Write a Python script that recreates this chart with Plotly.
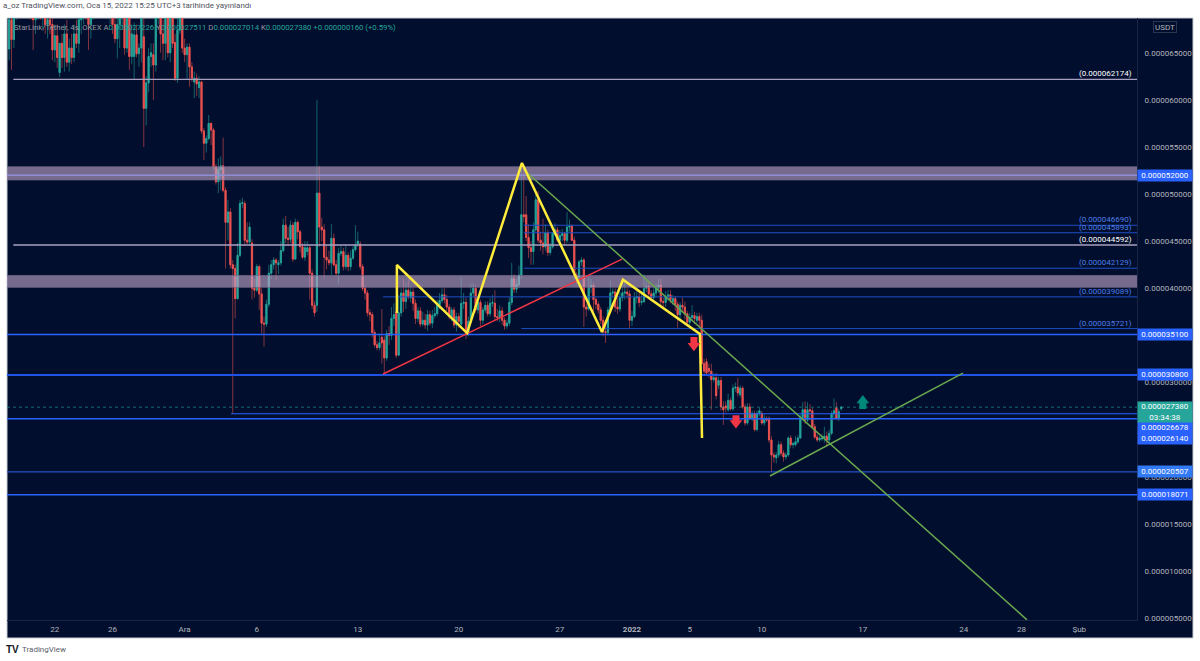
import numpy as np
import pandas as pd
import plotly.graph_objects as go

# 4h candles, prices in millionths of USDT
opens = [
    65.4,68.5,66.4,69.0,70.5,71.5,72.0,70.5,71.0,70.0,
    69.5,68.5,69.5,70,69,69.5,68,68.5,68,65.3,
    66.8,62.9,66,64.5,67,64,65.5,64.5,67,66,
    68.5,69.5,70,69,68,70,71,72,70.8,71.5,
    70.5,71.2,70,70.5,68,66.5,68,69.5,71,65.5,
    69,64.6,64.6,66.9,64.9,65.5,66.7,59.1,61.8,64.6,
    64.8,63.7,69,70,67,66,69,65,69,66.1,
    62.3,67.4,70,65.5,64.8,65.6,63.5,61.9,62.3,61.3,
    61.9,56.7,55.4,55.9,57.5,56.8,52.9,51.3,52.6,53,
    50.4,47,48.1,42.5,42.1,38.9,43.5,49,49,45.1,
    44.9,44.8,40,39.8,42.3,39.4,36.3,36.2,38.3,41.6,
    42.5,43,42.5,42.7,44,46.7,45.3,45.2,46.7,43.1,
    47,46,44.4,43.3,43.9,44.3,41.6,38.2,38.2,50.1,
    46.5,46.2,43.3,43,42.7,45.3,42.5,41.6,43.7,43.9,
    42.3,43.5,42.3,43.2,44.1,44.7,44.7,42.3,40,39.5,
    37.4,37.2,35.3,34,33.7,34.8,34.5,32.6,35.2,35,
    36.8,37.5,32.9,37.4,39.5,38.6,39.8,39,39.6,38.4,
    36.8,37.6,36.2,36.6,36.1,37.2,36.3,37.1,37.3,38.2,
    38.7,39.3,38.8,38,37,37.7,36.1,37,36.2,38.4,
    38.5,35.2,36.5,39.5,40,37.7,38.5,36.6,37.7,38.2,
    37.3,38.4,38.4,37,36.9,37.6,36.6,36,36.3,38.5,
    41,39.9,40.4,41.4,47.8,47.8,45.4,44.3,43.9,46.2,
    49.4,45.1,44.8,44.4,45.9,43.8,44.4,45.9,46.2,45.1,
    45.6,45.8,45.1,46.5,46.6,45.1,41.4,41.2,42.8,43,
    38,37.8,40.1,40.3,38.8,38.3,37.7,36.6,35.4,35.3,
    37.7,39.5,39.6,38,37.8,39,39.5,39.6,39.4,36.6,
    37,39,39.1,38.5,38.6,40,40.2,39.4,39,39.5,
    40,40.3,38.6,38.5,39.1,39.3,38.6,38.9,38.3,37.2,
    38.2,38,37.3,36.4,36.9,37.1,36.6,37,36.6,32,
    32.2,31.5,31.2,30.3,30.5,29.7,30.2,27.4,27.5,27.1,
    28.1,27.2,29.4,29.5,28.7,29.4,27.4,25.7,27.4,26.2,
    26.7,25,26.7,26.7,25.7,26.2,26.2,23.9,22.3,22,
    22.3,23.4,22.5,22.1,22.3,24.1,23.4,23.4,23.7,24.1,
    26.3,27.1,26,27.1,27,25.3,24.2,23.9,24,24.1,
    24.3,23.9,24.6,26.7,27.3,26.2,27.226,
]
highs = [
    70,70,71,72,73,74,73.5,72,72,71,
    71,70,71,71.5,70.5,70.5,69.5,70,69,68,
    68,66,67,68,68.5,66.5,67,68,68.5,69,
    70,71,71,70.5,71,72,73,73,72,73,
    72,72.5,71.5,72,70,69,70,72,72,70,
    70.5,68,68.2,68,66,70,70,62.5,65.5,66,
    66,71,71.5,71,68.5,70,70,71,70,67,
    69,71,71,66.5,66,66,64,63,62.8,62.5,
    62,57,56.2,58.4,57.6,57,53.2,53.8,54,56,
    50.7,49.4,48.5,43,42.5,44.8,49.4,49.6,49.3,47,
    47,45.2,41,42.6,42.5,40,37,38.8,42.5,43,
    43.3,43.2,43,45,47.4,47.7,46.5,47.2,47,47.4,
    47.2,46.2,44.8,45,45,44.6,42,38.6,60,53,
    47.5,46.8,44.5,44,46.8,45.8,43,44.3,44.5,44.3,
    44.6,43.8,44,44.5,46.7,46,45,42.6,40.3,39.8,
    37.8,37.5,35.6,34.4,35.2,37.8,34.9,35.6,36,38,
    38.4,38,39.3,40,41,40.6,41,40.2,40,38.8,
    38,38,37.5,37.3,37.7,37.6,37.7,38,38.8,39.5,
    40,40,39.3,38.3,38,38,37.4,37.4,41.2,39.5,
    39,37,40.5,40.5,40.3,39.2,38.8,38,38.6,38.6,
    39,39.3,39.8,37.8,38.2,38,36.9,36.7,39,42.7,
    41.5,41,42.4,52.8,53.2,49.8,46.8,45,47,50.2,
    50.3,46,47.4,46.8,46.2,44.8,46,46.9,46.5,46.2,
    46.3,46,48.1,47.3,46.8,45.5,41.7,43,43.3,43.2,
    38.4,41.2,41,40.6,39.1,38.6,38,37,36,38,
    40.8,40,40,39,39.6,40.2,40.6,40,39.8,37.6,
    39.6,40,39.8,39.4,41.5,40.9,40.7,39.8,40,40.5,
    41,41,39,39.7,39.8,39.8,39.3,39.2,38.6,38.5,
    39,38.6,37.6,37.4,38.2,37.5,37.4,37.4,37.2,32.5,
    32.6,32,32,31,31,30.6,30.6,28,28,28.8,
    28.4,29.8,30,30.5,29.7,29.6,27.7,27.8,27.8,27,
    27,27,27.3,27,26.6,26.4,26.4,24.3,22.6,22.6,
    23.8,23.7,22.8,22.6,24.3,24.4,23.7,24.3,24.4,26.6,
    27.9,28,27.9,27.7,27.3,25.6,24.5,24.3,24.5,25.3,
    24.8,25,27,28.3,27.9,27.2,27.511,
]
lows = [
    64.2,63.2,65.5,68.5,69.2,70,70,69,69,68.5,
    65.3,67,68.5,68.5,67.5,67,66.5,67,64.2,64,
    63.4,62.4,63.4,63,63.5,63,63.8,64,65.5,65,
    67,68,68.5,65.3,66.5,68.5,69.5,70,69,70,
    69,69.5,68,67,66,64.4,65.5,67.5,64.8,65,
    63.2,63.8,62.1,64.5,63.5,64,55,57.3,60.8,63.5,
    60,63,68,65,64.2,64.2,64.5,64,65.5,62,
    61.8,67,65,64,62.1,61.4,61.9,60.2,60.4,60.2,
    56.4,53.6,54.4,55.7,55.2,52.6,51,50.1,50.4,50.2,
    42.1,45.1,42.1,26.7,36.8,38.8,43.3,48.5,44.5,44.7,
    44.5,38.8,39,39.6,37.7,35.2,33.8,35.9,38,41,
    42,40.9,41.5,42.4,43.8,44.8,44.5,44.8,42.8,43,
    45.2,43.8,43.1,42.9,43.5,38.8,37.8,37,37.5,44.4,
    45,41.1,42,42.4,41.4,42.3,41.3,40.5,43.4,41.9,
    42,41.8,41.9,43,43.9,44.4,42,39.7,38.8,37,
    36.5,34.8,33.7,33.4,33.4,32,30.9,32.3,34,34.5,
    36,32.6,32.8,37,37.5,37.8,38.8,38.5,37.6,36.2,
    36.4,35.9,36,35.7,35.5,36,35.8,36.8,37,37.8,
    38.4,38.4,37.6,36.7,36.5,35.8,35.4,35.8,35.9,37.8,
    34.6,34.9,36.3,39,37.4,37.3,36,36.2,37.4,37,
    37,38,36.6,36.5,36.4,36.1,35.6,35.7,36,38.2,
    39.5,39.5,40,41,47,45,43.2,42.5,42.5,46,
    44.8,44,43.6,44,43.4,43.5,44.2,45.6,44.9,44.6,
    45,44.6,44.8,46,45,41,40.5,40.8,42.4,35.9,
    37,37.6,39.5,37.5,37.8,37.3,36.2,34.9,34.2,35,
    37.4,39,37.5,37.3,37.5,38.6,38.8,38.9,35.7,36,
    36.8,38.4,38,38.2,38.4,39.6,39,38.6,38.6,39,
    39.5,38.2,38,38,38.7,38.4,38.2,37.6,35.8,36.6,
    37.6,36.7,36,36.1,36.6,36.2,36.3,36,31.9,30.8,
    30.8,30.5,27.1,30,28.2,29.3,27,25.5,26.8,26.9,
    27,27,29,28.5,28.4,27.2,25.4,25.5,26,25.9,
    24.8,24.8,26.4,25.5,25.4,25.8,23.6,20.5,21.5,21.4,
    22,22.2,21.6,21.8,22.1,23.1,23,23.2,23.5,24,
    26,25.6,25.8,26,25.1,24,23.7,23.7,23.8,23.6,
    23.3,23.6,24.4,26.2,26,25.9,27.014,
]
closes = [
    68.5,66.4,69,70.5,71.5,72,70.5,71,70,69.5,
    68.5,69.5,70,69,69.5,68,68.5,68,65.3,66.8,
    64.5,66,64.5,67,64,65.5,64.5,67,66,68.5,
    69.5,70,69,68,70,71,72,70.8,71.5,70.5,
    71.2,70,70.5,68,66.5,68,69.5,71,65.5,69,
    64.6,67,66.9,64.9,65.5,69,59.1,61.8,64.6,65,
    63.7,69,70,67,66,69,65,69,66,62.3,
    67.4,70,65.5,64.8,65.6,63.5,62.3,62.3,61.7,61.9,
    56.7,55.4,55.9,57.5,56.8,52.9,51.3,52.6,53,50.4,
    47,48.1,42.5,42.1,38.9,43.5,49,49.1,45.1,44.9,
    46.5,40,39.8,42.3,39.4,36.3,36.2,38.3,41.6,42.5,
    43,42.7,42.7,44,46.7,45.3,45.2,46.7,43.1,47,
    46,44.4,43.3,44.3,44.3,41.6,38.2,37.4,50.1,46.5,
    46.2,43.3,43,42.7,45.3,42.5,41.6,43.7,43.9,42.3,
    43.5,42.3,43.2,44.1,44.6,45,42.3,40,39.5,37.4,
    37.2,35.3,34,33.7,34.2,34.2,32.6,35.2,35,36.8,
    37.2,32.9,37.4,39.5,38.6,39.8,39.1,39.6,38.4,36.8,
    37.6,36.2,36.6,36.1,37.2,36.3,37.1,37.3,38.2,38.7,
    39.3,38.8,38,37,37.7,36.1,37,36.5,38.4,38.5,
    35.2,36.5,39.5,40,37.7,38.5,36.6,37.7,38.2,37.3,
    38.4,38.5,37,36.9,37.6,36.6,36,36.3,38.5,41,
    39.9,40.4,41.4,47.8,47.6,45.4,44.3,43.9,46.2,49.4,
    45.1,44.8,44.4,45.9,43.8,44.4,45.9,46.2,45.1,45.6,
    45.8,45.1,46.5,46.6,45.1,41.4,41.2,42.8,43,38,
    37.8,40.1,40.3,38.8,38.3,37.7,36.6,35.4,35.3,37.7,
    39.5,39.6,38,37.8,39,39.5,39.6,39.4,36.6,37,
    39,39.1,38.5,38.6,40,40.2,39.4,39,39.5,40,
    40.3,38.6,38.5,39.1,39.3,38.8,38.9,38.3,37.2,38.2,
    38,37.3,36.4,36.9,37.1,36.8,37,36.6,32,31.2,
    31,31.2,30.3,30.5,28.6,30.2,27.4,27.1,27.3,28.1,
    27.2,29.4,29.5,28.9,29.4,27.4,25.7,27.4,26.2,26.7,
    25,26.7,27,25.7,26.2,26,23.9,22.3,22.1,22.3,
    23.4,22.5,22.1,22.3,24.1,23.4,23.5,23.7,24.1,26.3,
    27.1,26,27.1,27,25.3,24.2,23.9,24.1,24.1,24.3,
    23.9,24.6,26.7,27,26.2,26.9,27.38,
]

tick_dates = ["2021-11-22", "2021-11-26", "2021-12-01", "2021-12-06", "2021-12-13", "2021-12-20",
              "2021-12-27", "2022-01-01", "2022-01-05", "2022-01-10", "2022-01-17", "2022-01-24",
              "2022-01-28", "2022-02-01"]
tick_labels = ["22", "26", "Ara", "6", "13", "20", "27", "<b>2022</b>", "5", "10", "17", "24", "28", "Şub"]
price_ticks = [5, 10, 15, 20, 30, 40, 45, 50, 55, 60, 65]  # 25 and 35 sit behind the level tags

# horizontal levels: value, first date
white_levels = [62.174, 44.592]
white_starts = ["2021-11-19 03:00", "2021-11-19 03:00"]
fib_levels = [46.690, 45.893, 42.129, 39.089, 35.721]
fib_starts = ["2021-12-24 12:00", "2021-12-24 12:00", "2021-12-24 12:00", "2021-12-14 18:00", "2021-12-24 08:00"]
blue_levels = [35.100, 30.800, 26.678, 26.140, 20.507, 18.071]
blue_starts = ["2021-11-18 16:30", "2021-11-18 16:30", "2021-12-04 05:00", "2021-11-18 16:30", "2021-11-18 16:30", "2021-11-18 16:30"]
blue_colors = ["#2962ff", "#1e53e5", "#2962ff", "#2962ff", "#2450c8", "#2962ff"]
blue_widths = [1.5, 2, 1, 1.5, 1.2, 1.5]
band_lows = [51.5, 40.1]
band_highs = [52.9, 41.35]
last_price = 27.38

# drawn patterns
yellow_x = ["2021-12-15 17:00", "2021-12-15 17:00", "2021-12-20 13:40", "2021-12-24 09:00", "2021-12-29 22:00",
            "2021-12-31 09:00", "2022-01-05 17:00", "2022-01-05 20:30"]
yellow_y = [37.38, 42.47, 35.25, 53.3, 35.35, 40.9, 35.15, 24.1]
red_x = ["2021-12-14 18:00", "2021-12-31 07:30"]
red_y = [30.9, 43.1]
fall_x = ["2021-12-24 12:30", "2022-01-28 09:00"]
fall_y = [52.55, 4.8]
rise_x = ["2022-01-10 13:30", "2022-01-23 22:30"]
rise_y = [20.07, 31.0]

down_x = ["2022-01-05 07:00", "2022-01-08 05:00"]
down_stem = [34.46, 26.15]
down_head = [33.9, 25.7]
up_x = ["2022-01-17 00:00"]
up_stem = [27.55]
up_head = [28.1]

BG = "#010e2d"
UP = "#26a69a"
DOWN = "#ef5350"
BLUE = "#2962ff"
GREY = "#b2b5be"
FONT = "Roboto"
SCALE = 1e-6

times = pd.date_range("2021-11-18 20:00", periods=len(closes), freq="4h")
o = np.array(opens) * SCALE
h = np.array(highs) * SCALE
l = np.array(lows) * SCALE
c = np.array(closes) * SCALE
x_start, x_end = "2021-11-18 16:30", "2022-02-05 00:00"

fig = go.Figure()

# wicks are dimmer than bodies, so two candle traces
fig.add_trace(go.Candlestick(
    x=times, open=o, high=h, low=l, close=c, hoverinfo="skip",
    increasing=dict(line=dict(color="rgba(38,166,154,0.55)", width=1), fillcolor="rgba(0,0,0,0)"),
    decreasing=dict(line=dict(color="rgba(239,83,80,0.55)", width=1), fillcolor="rgba(0,0,0,0)"),
))
fig.add_trace(go.Candlestick(
    x=times, open=o, high=np.maximum(o, c), low=np.minimum(o, c), close=c, hoverinfo="skip",
    increasing=dict(line=dict(color=UP, width=0.8), fillcolor=UP),
    decreasing=dict(line=dict(color=DOWN, width=0.8), fillcolor=DOWN),
))


def add_line(xs, ys, color, width, dash="solid"):
    fig.add_trace(go.Scatter(x=xs, y=np.array(ys) * SCALE, mode="lines", hoverinfo="skip",
                             line=dict(color=color, width=width, dash=dash)))


# purple zones
for low, high in zip(band_lows, band_highs):
    fig.add_trace(go.Scatter(
        x=[x_start, x_end, x_end, x_start, x_start],
        y=np.array([low, low, high, high, low]) * SCALE,
        mode="lines", fill="toself", hoverinfo="skip",
        fillcolor="rgba(190,165,200,0.62)", line=dict(color="rgba(120,106,140,0.7)", width=1),
    ))
add_line([x_start, x_end], [52.0, 52.0], "#8f8fd8", 1.5)

for val, start in zip(white_levels, white_starts):
    add_line([start, x_end], [val, val], "#a8a0c0", 1.3)
for val, start in zip(fib_levels, fib_starts):
    add_line([start, x_end], [val, val], "#1f4fc4", 1)
for val, start, col, w in zip(blue_levels, blue_starts, blue_colors, blue_widths):
    add_line([start, x_end], [val, val], col, w)
add_line([x_start, x_end], [last_price, last_price], "rgba(38,166,154,0.6)", 1, "dot")

add_line(fall_x, fall_y, "#6aa84f", 1.5)
add_line(rise_x, rise_y, "#6aa84f", 1.5)
add_line(red_x, red_y, "#f23645", 1.5)
add_line(yellow_x, yellow_y, "#ffeb3b", 2.5)

# block arrows, stem + head
for xs, stems, heads, color, sym in [(down_x, down_stem, down_head, "#f23645", "triangle-down"),
                                     (up_x, up_stem, up_head, "#00897b", "triangle-up")]:
    fig.add_trace(go.Scatter(x=xs, y=np.array(stems) * SCALE, mode="markers", hoverinfo="skip",
                             marker=dict(symbol="square", size=7, color=color, line=dict(width=0))))
    fig.add_trace(go.Scatter(x=xs, y=np.array(heads) * SCALE, mode="markers", hoverinfo="skip",
                             marker=dict(symbol=sym, size=11, color=color, line=dict(width=0))))

annotations = []


def price_label(val, color, text=None, height=11, shift=0):
    annotations.append(dict(
        xref="paper", yref="y", x=1, y=val * SCALE, xanchor="left", yanchor="middle", yshift=shift,
        text=text or f"{val * SCALE:.9f}", showarrow=False, width=54, height=height, align="center",
        bgcolor=color, borderpad=0, font=dict(family=FONT, size=8, color="#ffffff"),
    ))


def level_label(val, color):
    annotations.append(dict(
        xref="paper", yref="y", x=0.9965, y=val * SCALE, xanchor="right", yanchor="bottom", yshift=0,
        text=f"({val * SCALE:.9f})", showarrow=False, borderpad=0, font=dict(family=FONT, size=8, color=color),
    ))


price_label(52.0, BLUE)
price_label(35.1, BLUE)
price_label(30.8, BLUE)
price_label(20.507, "#3179f5")
price_label(18.071, BLUE)
price_label(26.678, BLUE, shift=-13.7)
price_label(26.14, BLUE, shift=-19.7)
price_label(last_price, UP, text="0.000027380<br>03:34:38", height=20, shift=-5)
for val in white_levels:
    level_label(val, "#ffffff")
for val in fib_levels:
    level_label(val, "#4d7ee8")

annotations.append(dict(xref="paper", yref="paper", x=-0.005, y=1.021, xanchor="left", yanchor="middle",
                        text="a_oz TradingView.com, Oca 15, 2022 15:25 UTC+3 tarihinde yayınlandı",
                        showarrow=False, font=dict(family=FONT, size=8, color="#50535e")))

val_span = '<span style="color:#26a69a">{}</span>'
legend_text = ("StarLink/Tether, 4s, OKEX A" + val_span.format("0.000027226") + " Y" + val_span.format("0.000027511")
               + " D" + val_span.format("0.000027014") + " K" + val_span.format("0.000027380")
               + " " + val_span.format("+0.000000160 (+0.59%)"))
annotations.append(dict(xref="paper", yref="paper", x=0.004, y=0.985, xanchor="left", yanchor="middle",
                        text=legend_text, showarrow=False, font=dict(family=FONT, size=7.75, color="#9598a1")))

annotations.append(dict(xref="paper", yref="paper", x=1.0248, y=0.985, xanchor="center", yanchor="middle",
                        text="USDT", showarrow=False, width=22, height=10, bordercolor="#2a3550", borderwidth=1,
                        borderpad=0, font=dict(family=FONT, size=8, color=GREY)))

annotations.append(dict(xref="paper", yref="paper", x=-0.003, y=-0.0495, xanchor="left", yanchor="middle",
                        text="<b>TV</b>", showarrow=False, font=dict(family="Liberation Sans", size=10, color="#131722")))
annotations.append(dict(xref="paper", yref="paper", x=0.0115, y=-0.0495, xanchor="left", yanchor="middle",
                        text="TradingView", showarrow=False, font=dict(family=FONT, size=8, color="#5d606b")))

# dark panel with the two axis strips, thin light border around it
panel = dict(type="rect", xref="paper", yref="paper", x0=0, x1=1186 / 1130, y0=-18 / 602, y1=1,
             fillcolor=BG, line=dict(color="#c8ccd4", width=1), layer="below")

fig.update_layout(
    width=1200, height=661, autosize=False,
    margin=dict(l=7, r=63, t=18, b=41, pad=0),
    paper_bgcolor="#ffffff", plot_bgcolor=BG,
    showlegend=False, hovermode=False, dragmode=False,
    font=dict(family=FONT, size=8, color=GREY),
    shapes=[panel], annotations=annotations,
    xaxis=dict(type="date", range=[x_start, x_end], rangeslider=dict(visible=False),
               tickmode="array", tickvals=tick_dates, ticktext=tick_labels,
               showgrid=False, zeroline=False, showline=True, linecolor="#1a2544", linewidth=1,
               ticks="outside", ticklen=1, tickcolor=BG, tickfont=dict(family=FONT, size=8, color=GREY)),
    yaxis=dict(side="right", range=[4.788e-6, 68.69e-6], tickmode="array",
               tickvals=[t * SCALE for t in price_ticks], tickformat=".9f",
               showgrid=False, zeroline=False, showline=True, linecolor="#1a2544", linewidth=1,
               ticks="outside", ticklen=5, tickcolor=BG, tickfont=dict(family=FONT, size=8, color=GREY)),
)

fig.write_html("out.html", config=dict(displayModeBar=False),
               post_script="document.body.style.margin='0';document.body.style.overflow='hidden';")
